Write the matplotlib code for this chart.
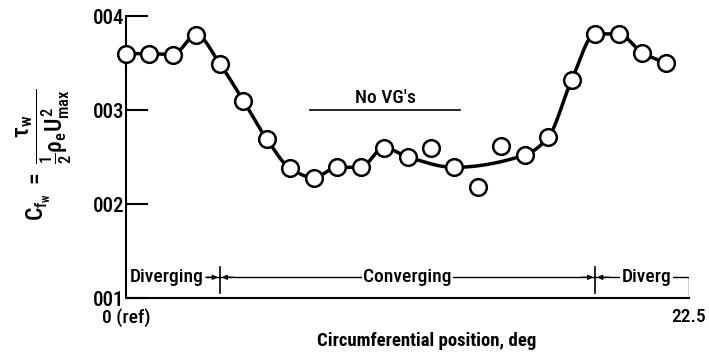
import numpy as np
import matplotlib
matplotlib.use("Agg")
import matplotlib.pyplot as plt
from matplotlib import font_manager

# --- data -------------------------------------------------------------
angle_step = 22.5 / 24
position_deg = np.arange(24) * angle_step
cf_w = [0.00360, 0.00360, 0.00359, 0.00380, 0.00349, 0.00310, 0.00269,
        0.00238, 0.00228, 0.00239, 0.00239, 0.00260, 0.00250, 0.00260,
        0.00239, 0.00218, 0.00262, 0.00252, 0.00271, 0.00332, 0.00381,
        0.00381, 0.00361, 0.00350]
# points the faired curve is drawn through (scattered ones left out)
faired_idx = [0, 1, 2, 3, 4, 5, 6, 7, 8, 9, 10, 11, 12, 14, 17, 18, 19,
              20, 21, 22, 23]

y_ticks = [0.001, 0.002, 0.003, 0.004]
y_ticklabels = ["001", "002", "003", "004"]
x_ticks = [0.0, 22.5]
x_ticklabels = ["0 (ref)", "22.5"]

regions = ["Diverging", "Converging", "Diverg"]
region_bounds = [0.0, 3.75, 18.75, 22.5]
no_vg_label = "No VG's"
no_vg_span = [7.35, 13.35]

# --- fonts ------------------------------------------------------------
names = {f.name for f in font_manager.fontManager.ttflist}
FONT = next((n for n in ("Roboto Condensed", "Archivo Narrow", "PT Sans Narrow")
             if n in names), "DejaVu Sans")
plt.rcParams["font.family"] = [FONT, "DejaVu Sans"]
plt.rcParams["font.weight"] = "medium"
plt.rcParams["mathtext.fontset"] = "custom"
plt.rcParams["mathtext.rm"] = FONT + ":medium"
plt.rcParams["mathtext.it"] = FONT + ":medium"
plt.rcParams["mathtext.bf"] = FONT + ":bold"


def pchip(x, y, xq):
    """Monotone piecewise cubic Hermite interpolation."""
    x = np.asarray(x, float)
    y = np.asarray(y, float)
    h = np.diff(x)
    d = np.diff(y) / h
    m = np.zeros_like(y)
    for k in range(1, len(x) - 1):
        if d[k - 1] * d[k] <= 0:
            m[k] = 0.0
        else:
            w1 = 2 * h[k] + h[k - 1]
            w2 = h[k] + 2 * h[k - 1]
            m[k] = (w1 + w2) / (w1 / d[k - 1] + w2 / d[k])
    m[0] = d[0]
    m[-1] = d[-1]
    idx = np.clip(np.searchsorted(x, xq) - 1, 0, len(x) - 2)
    t = (xq - x[idx]) / h[idx]
    h00 = 2 * t**3 - 3 * t**2 + 1
    h10 = t**3 - 2 * t**2 + t
    h01 = -2 * t**3 + 3 * t**2
    h11 = t**3 - t**2
    return (h00 * y[idx] + h10 * h[idx] * m[idx]
            + h01 * y[idx + 1] + h11 * h[idx] * m[idx + 1])


fig = plt.figure(figsize=(7.09, 3.57), dpi=100)
ax = fig.add_axes([126 / 709, 59 / 357, (689 - 126) / 709, (298 - 16) / 357])
ax.set_xlim(0, 22.5)
ax.set_ylim(0.001, 0.004)

# faired curve
fx = position_deg[faired_idx]
fy = np.array(cf_w)[faired_idx]
xq = np.linspace(fx[0], fx[-1], 600)
ax.plot(xq, pchip(fx, fy, xq), color="black", lw=2.5, zorder=2,
        solid_capstyle="round")

# measured points
ax.plot(position_deg, cf_w, linestyle="none", marker="o", markersize=12,
        markerfacecolor="white", markeredgecolor="black", markeredgewidth=1.8,
        zorder=3, clip_on=False)

# axes styling
for side in ("top", "right"):
    ax.spines[side].set_visible(False)
for side in ("left", "bottom"):
    ax.spines[side].set_linewidth(1.5)
ax.set_yticks(y_ticks)
ax.set_yticklabels(y_ticklabels, fontsize=15)
ax.tick_params(axis="y", direction="in", length=16, width=1.5, pad=1)
ax.set_xticks(x_ticks)
ax.set_xticklabels(x_ticklabels, fontsize=14)
ax.tick_params(axis="x", length=0, pad=7)
for lab, dx in zip(ax.get_xticklabels(), (0.25, 0.0)):
    lab.set_x(lab.get_position()[0] + dx)

ax.set_xlabel("Circumferential position, deg", fontsize=13.5,
              fontweight="bold")
ax.xaxis.set_label_coords((427 - 126) / 563, (298 - 341) / 282)
ax.xaxis.label.set_va("center")

ax.set_ylabel(r"$C_{f_w}\ =\ \dfrac{\tau_w}{\frac{1}{2}\rho_e U^2_{max}}$",
              fontsize=17)
ax.yaxis.set_label_coords((44 - 126) / 563, (298 - 155) / 282)
ax.yaxis.label.set_va("center")

# No VG's reference line
ax.plot(no_vg_span, [0.003, 0.003], color="black", lw=1.2)
ax.text(np.mean(no_vg_span), 0.00303, no_vg_label, ha="center",
        va="bottom", fontsize=14)

# flow-region brackets along the bottom
yb = 0.00122
txt_kw = dict(va="center", fontsize=14, color="black")
ax.text(0.15, yb, regions[0], ha="left", **txt_kw)
ax.text(np.mean(region_bounds[1:3]), yb, regions[1], ha="center",
        bbox=dict(facecolor="white", edgecolor="none", pad=1), **txt_kw,
        zorder=4)
ax.text(20.8, yb, regions[2], ha="center",
        bbox=dict(facecolor="white", edgecolor="none", pad=1), **txt_kw,
        zorder=4)

line_kw = dict(color="black", lw=1.0)
ax.plot([3.2, region_bounds[1]], [yb, yb], **line_kw)
ax.plot([region_bounds[1], region_bounds[2]], [yb, yb], **line_kw, zorder=1)
ax.plot([region_bounds[2], region_bounds[3]], [yb, yb], **line_kw, zorder=1)
ax.plot([region_bounds[3], region_bounds[3]], [yb, 0.001], **line_kw)
for xb in region_bounds[1:3]:
    ax.plot([xb, xb], [yb - 0.000167, yb + 0.00011], color="black", lw=1.2)
    for side in (-1, 1):
        ax.annotate("", xy=(xb + side * 0.08, yb),
                    xytext=(xb + side * 0.55, yb),
                    arrowprops=dict(arrowstyle="-|>", color="black", lw=1.0,
                                    mutation_scale=7, shrinkA=0, shrinkB=0))

fig.savefig("out.png", dpi=100)
